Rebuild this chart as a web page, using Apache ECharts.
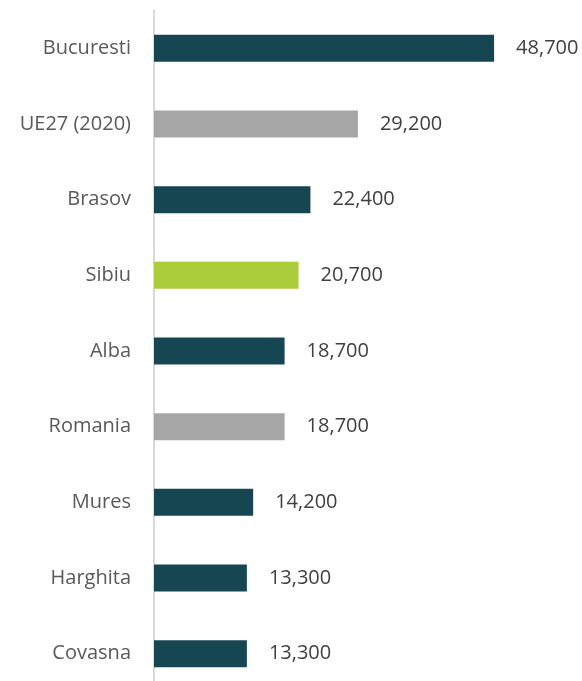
<!DOCTYPE html>
<html>
<head>
<meta charset="utf-8">
<script src="https://cdn.jsdelivr.net/npm/echarts@6/dist/echarts.min.js"></script>
<style>
  html, body { margin: 0; padding: 0; background: #fff; }
  #chart { width: 582px; height: 681px; }
</style>
</head>
<body>
<div id="chart"></div>
<script>
var categories = ['Bucuresti', 'UE27 (2020)', 'Brasov', 'Sibiu', 'Alba', 'Romania', 'Mures', 'Harghita', 'Covasna'];
var values = [48700, 29200, 22400, 20700, 18700, 18700, 14200, 13300, 13300];
var barColors = ['#164652', '#a6a6a6', '#164652', '#abcc3b', '#164652', '#a6a6a6', '#164652', '#164652', '#164652'];

var chart = echarts.init(document.getElementById('chart'));

var barData = values.map(function (v, i) {
  return { value: v, itemStyle: { color: barColors[i] } };
});

chart.setOption({
  animation: false,
  grid: {
    left: 154,
    top: 10.5,
    height: 681,
    width: 419,
    outerBoundsMode: 'none',
    containLabel: false
  },
  xAxis: {
    type: 'value',
    min: 0,
    max: 60000,
    show: false
  },
  yAxis: {
    type: 'category',
    data: categories,
    inverse: true,
    axisLine: { show: true, lineStyle: { color: '#d9d9d9', width: 2 } },
    axisTick: { show: false },
    axisLabel: {
      margin: 23,
      color: '#595959',
      fontFamily: 'Open Sans',
      fontSize: 20
    }
  },
  series: [{
    type: 'bar',
    data: barData,
    barWidth: 27,
    label: {
      show: true,
      position: 'right',
      distance: 22,
      color: '#404040',
      fontFamily: 'Open Sans',
      fontSize: 20,
      formatter: function (p) {
        return p.value.toLocaleString('en-US');
      }
    }
  }]
});
</script>
</body>
</html>
